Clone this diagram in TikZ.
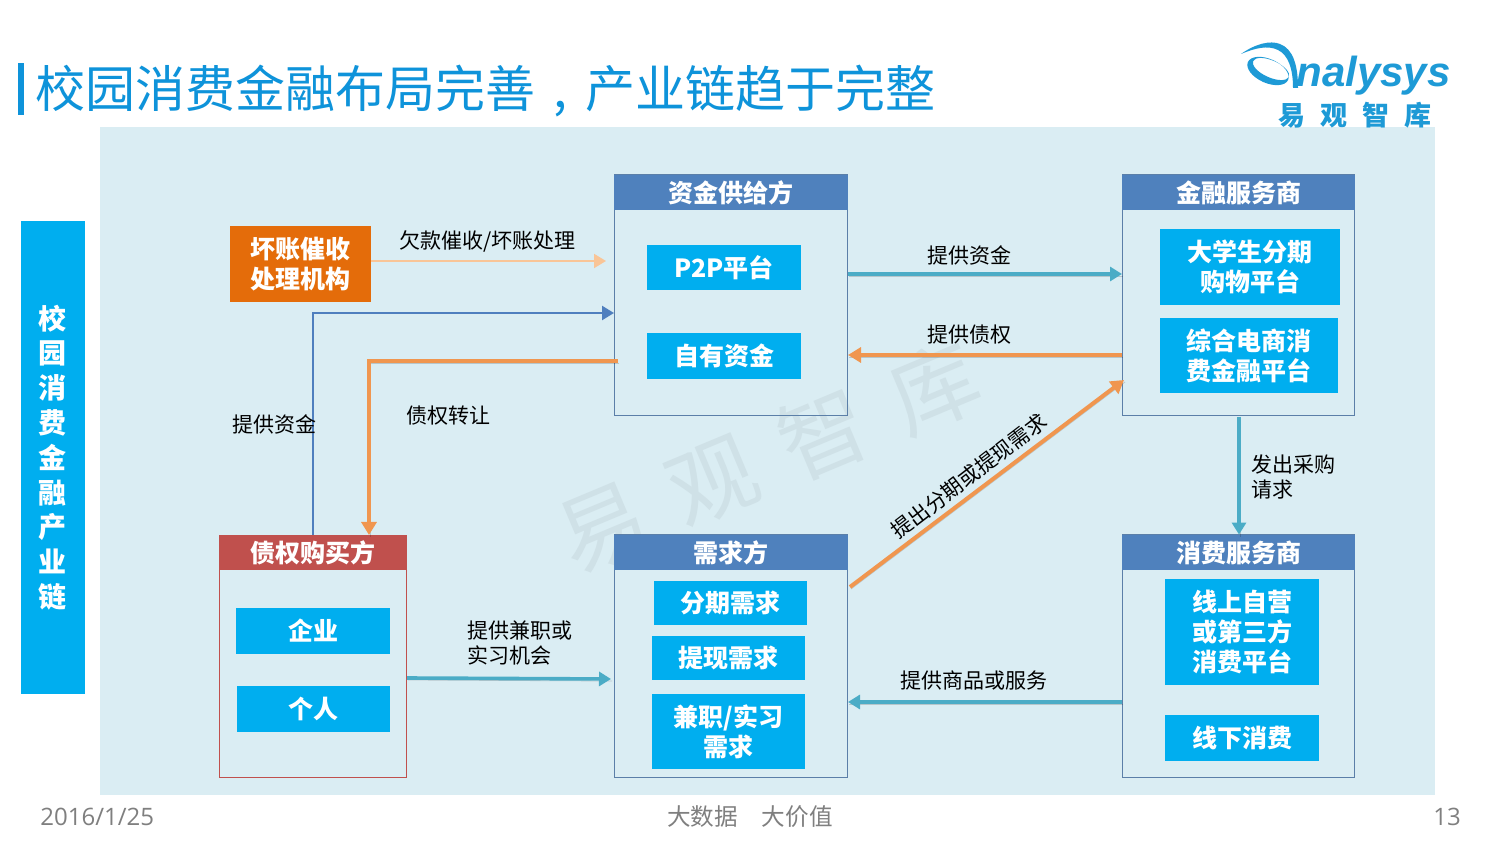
\documentclass[tikz,border=0pt]{standalone}
\usepackage{fontspec}
\setmainfont{Noto Sans CJK SC}
\newfontfamily\latinfont{Liberation Sans}
\newfontfamily\footfont{Open Sans}
\usetikzlibrary{arrows.meta, positioning, calc}
\definecolor{skyfill}{HTML}{00AEEF}
\definecolor{titleblue}{HTML}{0E93DA}
\definecolor{panelbg}{HTML}{DAEDF3}
\definecolor{headblue}{HTML}{4F81BD}
\definecolor{headred}{HTML}{C0504D}
\definecolor{edgeblue}{HTML}{5B7FA8}
\definecolor{agencyorange}{HTML}{E46C0A}
\definecolor{arrowteal}{HTML}{4BACC6}
\definecolor{arroworange}{HTML}{F0964F}
\definecolor{arrowpeach}{HTML}{F9C597}
\definecolor{linkblue}{HTML}{4F7FBE}
\definecolor{markgray}{HTML}{CFE1E7}
\definecolor{footgray}{HTML}{7F7F7F}
\definecolor{logoblue}{HTML}{1E9AD6}
\begin{document}
\begin{tikzpicture}[
    x=0.5pt, y=-0.5pt,
    panel/.style={draw=edgeblue, line width=0.5pt, inner sep=0pt},
    head/.style={fill=headblue, inner sep=0pt, text=white, font=\fontsize{12.5}{15}\selectfont\bfseries},
    item/.style={fill=skyfill, inner sep=0pt, align=center, text=white, font=\fontsize{12.5}{15}\selectfont\bfseries},
    tag/.style={inner sep=0pt, align=left, text=black, font=\fontsize{10.5}{12.5}\selectfont},
    shade/.style={preaction={draw=black, draw opacity=0.16, -, transform canvas={shift={(0.5pt,-1pt)}}}},
    flow/.style={-{Triangle[length=6pt,width=7pt]}, line width=1.8pt, draw=arrowteal, shade},
    flowthick/.style={-{Triangle[length=6.5pt,width=7.5pt]}, line width=2.3pt, draw=arroworange, shade}
  ]
  \useasboundingbox (0,0) rectangle (1500,844);
  \fill[white] (0,0) rectangle (1500,844);

  % Background
  \node[fill=panelbg, inner sep=0pt, minimum width=667.5pt, minimum height=334pt] (bgpanel) at (767.5,461) {};

  % Watermark
  \node[text=markgray, inner sep=0pt, rotate=22.7, font=\fontsize{44}{50}\selectfont] (watermark) at (768,457)
    {易\hspace{16pt}观\hspace{16pt}智\hspace{16pt}库};

  % Title
  \node[fill=titleblue, inner sep=0pt, minimum width=3pt, minimum height=26pt] (titlebar) at (21,89) {};
  \node[anchor=base west, inner sep=0pt, text=titleblue, font=\fontsize{25}{30}\selectfont] (title) at (35,108)
    {校园消费金融布局完善\makebox[25pt]{,}产业链趋于完整};

  % Logo
  \fill[logoblue] (1241,54) .. controls (1255,44) and (1270,40) .. (1280,44) .. controls (1293,49) and (1298,65) .. (1298,88) -- (1293,88) .. controls (1293,68) and (1288,55) .. (1278,50) .. controls (1268,45) and (1255,48) .. (1241,54) -- cycle;
  \fill[logoblue, even odd rule] (1268,71) ellipse [x radius=22, y radius=12, rotate=-24]
    (1271,69) ellipse [x radius=19.5, y radius=8.5, rotate=-24];
  \node[anchor=base west, inner sep=0pt, text=logoblue, font=\latinfont\fontsize{21}{25}\selectfont\bfseries\itshape] (logoname) at (1296,87) {nalysys};
  \node[inner sep=0pt, text=logoblue, font=\fontsize{13.5}{16}\selectfont\bfseries] (logocn) at (1355,115)
    {易\hspace{7.5pt}观\hspace{7.5pt}智\hspace{7.5pt}库};

  % Side bar
  \node[item, minimum width=32pt, minimum height=236.5pt, font=\fontsize{14}{17.4}\selectfont\bfseries] (chain) at (53,457.5)
    {校\\园\\消\\费\\金\\融\\产\\业\\链};

  % Collection agency
  \node[fill=agencyorange, inner sep=0pt, align=center, text=white, minimum width=70.5pt, minimum height=38pt,
    font=\fontsize{12.5}{15}\selectfont\bfseries] (agency) at (300.5,264) {坏账催收\\处理机构};

  % Capital suppliers
  \node[panel, minimum width=116.5pt, minimum height=120.5pt] (supply) at (731,295.5) {};
  \node[head, minimum width=117pt, minimum height=17.5pt] (supplyhead) at (731,192.5) {资金供给方};
  \node[item, minimum width=77pt, minimum height=22.5pt] (ptwop) at (724,267.5) {P2P平台};
  \node[item, minimum width=77pt, minimum height=23pt] (ownfund) at (724,356) {自有资金};

  % Financial services
  \node[panel, minimum width=116pt, minimum height=120.5pt] (finance) at (1238.5,295.5) {};
  \node[head, minimum width=116.5pt, minimum height=17.5pt] (financehead) at (1238.5,192.5) {金融服务商};
  \node[item, minimum width=90pt, minimum height=38pt] (stages) at (1250,267) {大学生分期\\购物平台};
  \node[item, minimum width=89pt, minimum height=37.5pt] (ecom) at (1249,355.5) {综合电商消\\费金融平台};

  % Debt buyers
  \node[panel, draw=headred, minimum width=93.5pt, minimum height=120.5pt] (buyer) at (313,656.5) {};
  \node[head, fill=headred, minimum width=94pt, minimum height=17.5pt] (buyerhead) at (313,552.5) {债权购买方};
  \node[item, minimum width=77pt, minimum height=23pt] (firm) at (313,631) {企业};
  \node[item, minimum width=76.5pt, minimum height=23pt] (person) at (313.5,709) {个人};

  % Demand side
  \node[panel, minimum width=116.5pt, minimum height=121pt] (demand) at (731,656) {};
  \node[head, minimum width=117pt, minimum height=17.5pt] (demandhead) at (731,552.5) {需求方};
  \node[item, minimum width=76.5pt, minimum height=22pt] (instal) at (730.5,603) {分期需求};
  \node[item, minimum width=76.5pt, minimum height=22pt] (cash) at (728.5,658) {提现需求};
  \node[item, minimum width=76.5pt, minimum height=37.5pt] (job) at (728.5,731.5) {兼职/实习\\需求};

  % Consumer services
  \node[panel, minimum width=116pt, minimum height=121pt] (consume) at (1238.5,656) {};
  \node[head, minimum width=116.5pt, minimum height=17.5pt] (consumehead) at (1238.5,552.5) {消费服务商};
  \node[item, minimum width=77pt, minimum height=53pt] (online) at (1242,632) {线上自营\\或第三方\\消费平台};
  \node[item, minimum width=77pt, minimum height=23pt] (offline) at (1242,738) {线下消费};

  % Free ends
  \coordinate (agencyend) at (606,261);
  \coordinate (linkend) at (614,313);
  \coordinate (sellstart) at (618,361);
  \coordinate (jobend) at (611,679);
  \coordinate (ordertop) at (1239,417);
  \coordinate (askstart) at (850,587);
  \coordinate (askend) at (1124,380);

  % Arrows
  \draw[-{Triangle[length=6pt,width=7pt]}, line width=1pt, arrowpeach] (agency.east|-agencyend) -- (agencyend);
  \draw[-{Triangle[length=6pt,width=7pt]}, line width=1.2pt, linkblue] (buyerhead.north) |- (linkend);
  \draw[flowthick] (sellstart) -| (369,535);
  \draw[flow] (supply.east|-0,274) -- (finance.west|-0,274);
  \draw[flowthick] (finance.west|-0,355) -- (supply.east|-0,355);
  \draw[flowthick, line width=2pt] (askstart) -- (askend);
  \draw[flow] (ordertop) -- (consumehead.north-|ordertop);
  \draw[flow] (buyer.east|-0,678) -- (jobend);
  \draw[flow] (consume.west|-0,702) -- (demand.east|-0,702);

  % Labels
  \node[tag, anchor=west] (lbagency) at (399,241) {欠款催收/坏账处理};
  \node[tag, anchor=west] (lbfund) at (232,424) {提供资金};
  \node[tag, anchor=west] (lbsell) at (406,416) {债权转让};
  \node[tag, anchor=west] (lbsupply) at (927,255) {提供资金};
  \node[tag, anchor=west] (lbdebt) at (927,335) {提供债权};
  \node[tag, rotate=37.5] (lbask) at (969,476) {提出分期或提现需求};
  \node[tag, anchor=west] (lborder) at (1251,477) {发出采购\\请求};
  \node[tag, anchor=west] (lbjob) at (467,643) {提供兼职或\\实习机会};
  \node[tag, anchor=west] (lbgoods) at (900,680) {提供商品或服务};

  % Footer
  \node[anchor=west, inner sep=0pt, text=footgray, font=\footfont\fontsize{12}{14}\selectfont] (fdate) at (40,817) {2016/1/25};
  \node[inner sep=0pt, text=footgray, font=\fontsize{11.8}{14}\selectfont] (fslogan) at (750,817) {大数据\hspace{12pt}大价值};
  \node[inner sep=0pt, text=footgray, font=\footfont\fontsize{12}{14}\selectfont] (fpage) at (1447,817) {13};
\end{tikzpicture}
\end{document}
